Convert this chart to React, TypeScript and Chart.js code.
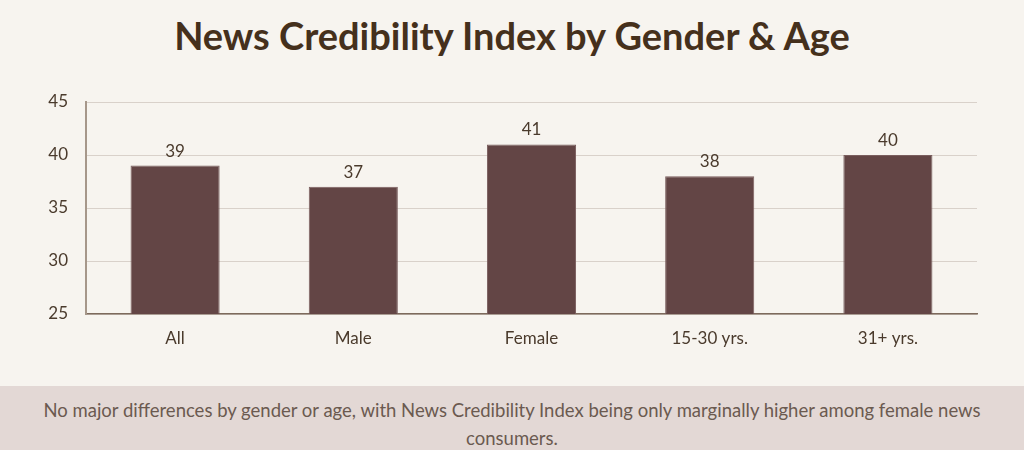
import React, { useEffect, useRef } from "react";
import { Chart, registerables } from "chart.js";

Chart.register(...registerables);

const categories = ["All", "Male", "Female", "15-30 yrs.", "31+ yrs."];
const values = [39, 37, 41, 38, 40];
const yTicks = [25, 30, 35, 40, 45];
const titleText = "News Credibility Index by Gender & Age";
const footnote =
  "No major differences by gender or age, with News Credibility Index being only marginally higher among female news consumers.";

const FONT = "Lato, 'Open Sans', sans-serif";

const valueLabels = {
  id: "valueLabels",
  afterDatasetsDraw(chart: any) {
    const ctx = chart.ctx;
    const meta = chart.getDatasetMeta(0);
    ctx.save();
    ctx.font = `17px ${FONT}`;
    ctx.fillStyle = "#4a3a2c";
    ctx.textAlign = "center";
    ctx.textBaseline = "bottom";
    meta.data.forEach((bar: any, i: number) => {
      ctx.fillText(String(values[i]), bar.x, bar.y - 6);
    });
    ctx.restore();
  },
};

export default function App() {
  const ref = useRef<HTMLCanvasElement>(null);
  useEffect(() => {
    document.body.style.margin = "0";
    const chart = new Chart(ref.current!, {
      type: "bar",
      data: {
        labels: categories,
        datasets: [
          {
            data: values,
            backgroundColor: "#634545",
            borderColor: "#7a5e5e",
            borderWidth: 1,
            categoryPercentage: 1,
            barPercentage: 0.5,
          },
        ],
      },
      options: {
        animation: false,
        responsive: false,
        maintainAspectRatio: false,
        layout: { padding: { top: 102, right: 47, left: 0, bottom: 0 } },
        plugins: {
          legend: { display: false },
          tooltip: { enabled: false },
          title: { display: false },
        },
        scales: {
          x: {
            grid: { display: false, drawTicks: false },
            border: { color: "#7d6a5c", width: 1.5 },
            ticks: {
              color: "#4a3a2c",
              font: { family: FONT, size: 17 },
              padding: 14,
            },
            afterFit(scale: any) {
              scale.height = 73;
            },
          },
          y: {
            min: 25,
            max: 45,
            afterBuildTicks(scale: any) {
              scale.ticks = yTicks.map((v) => ({ value: v }));
            },
            grid: { color: "#d9d1ca", drawTicks: false, lineWidth: 1 },
            border: { color: "#a6978a", width: 2 },
            ticks: {
              color: "#4a3a2c",
              font: { family: FONT, size: 17 },
              padding: 18,
            },
            afterFit(scale: any) {
              scale.width = 86;
            },
          },
        },
      },
      plugins: [valueLabels],
    });
    return () => chart.destroy();
  }, []);

  return (
    <div
      style={{
        position: "relative",
        width: 1024,
        height: 450,
        background: "#f7f4ef",
        overflow: "hidden",
      }}
    >
      <div
        style={{
          position: "absolute",
          top: 13,
          left: 0,
          width: 1024,
          textAlign: "center",
          fontFamily: FONT,
          fontWeight: 700,
          fontSize: 38,
          color: "#45301c",
          lineHeight: "44px",
        }}
      >
        {titleText}
      </div>
      <canvas
        ref={ref}
        width={1024}
        height={387}
        style={{ position: "absolute", top: 0, left: 0 }}
      />
      <div
        style={{
          position: "absolute",
          top: 386,
          left: 0,
          width: 1024,
          height: 64,
          background: "#e3d8d5",
          boxSizing: "border-box",
          padding: "10px 40px 0",
          textAlign: "center",
          fontFamily: FONT,
          fontSize: 18.5,
          lineHeight: "28px",
          color: "#6b5a50",
        }}
      >
        {footnote}
      </div>
    </div>
  );
}
